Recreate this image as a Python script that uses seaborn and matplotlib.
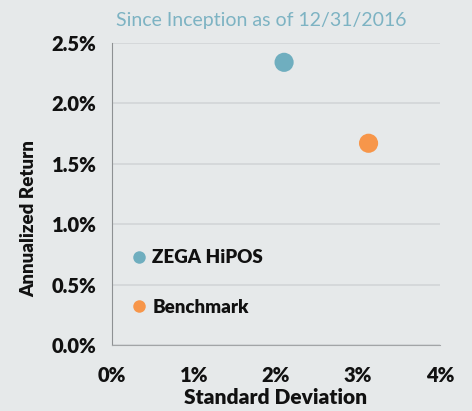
import pandas as pd
import seaborn as sns
import matplotlib.pyplot as plt
from matplotlib.lines import Line2D
from matplotlib.ticker import FuncFormatter

# data
names = ["ZEGA HiPOS", "Benchmark"]
std_dev = [2.10, 3.13]
ann_return = [2.34, 1.67]
colors = ["#6FAEBF", "#F7964A"]
x_ticks = [0, 1, 2, 3, 4]
y_ticks = [0.0, 0.5, 1.0, 1.5, 2.0, 2.5]

data = pd.DataFrame({"name": names, "std": std_dev, "ret": ann_return})

bg = "#E6E9EA"
sns.set_style("white")
plt.rcParams["font.family"] = ["Lato", "DejaVu Sans"]

fig = plt.figure(figsize=(4.72, 4.11), dpi=100, facecolor=bg)
ax = fig.add_axes([0.237, 0.1606, 0.695, 0.7348])
ax.set_facecolor(bg)

sns.scatterplot(data=data, x="std", y="ret", hue="name",
                palette=dict(zip(names, colors)), s=190, edgecolor="none",
                legend=False, ax=ax, zorder=3)

ax.set_xlim(0, 4)
ax.set_ylim(0, 2.5)
ax.set_xticks(x_ticks)
ax.set_yticks(y_ticks)
ax.xaxis.set_major_formatter(FuncFormatter(lambda v, p: f"{v:.0f}%"))
ax.yaxis.set_major_formatter(FuncFormatter(lambda v, p: f"{v:.1f}%"))
ax.grid(axis="y", color="#D2D5D7", linewidth=1.2, zorder=0)
ax.set_axisbelow(True)
for s in ["top", "right"]:
    ax.spines[s].set_visible(False)
ax.spines["left"].set_color("#8E9193")
ax.spines["bottom"].set_color("#A2A5A7")
ax.tick_params(axis="both", direction="out", length=5, width=1, color="#9A9D9F",
               labelsize=14.5, labelcolor="#111111", pad=6)
for lab in ax.get_xticklabels() + ax.get_yticklabels():
    lab.set_fontweight("heavy")
ax.tick_params(axis="x", pad=10)

ax.set_xlabel("Standard Deviation", fontsize=15, fontweight="heavy",
              color="#111111", labelpad=2)
ax.set_ylabel("Annualized Return", fontsize=13.5, fontweight="heavy",
              color="#111111")
ax.yaxis.set_label_coords(-0.228, 0.42)

fig.text(0.553, 0.951, "Since Inception as of 12/31/2016", ha="center", va="center",
         fontsize=14, color="#7DB3C3")

handles = [Line2D([], [], marker="o", linestyle="none", markersize=9,
                  markerfacecolor=c, markeredgecolor="none") for c in colors]
leg = ax.legend(handles, names, loc="lower left", bbox_to_anchor=(-0.003, 0.04),
                frameon=False, handletextpad=0.1, labelspacing=1.75,
                prop={"size": 13.5, "weight": "heavy"}, handlelength=1.2,
                labelcolor="#111111")

plt.savefig("out.png", facecolor=bg)
